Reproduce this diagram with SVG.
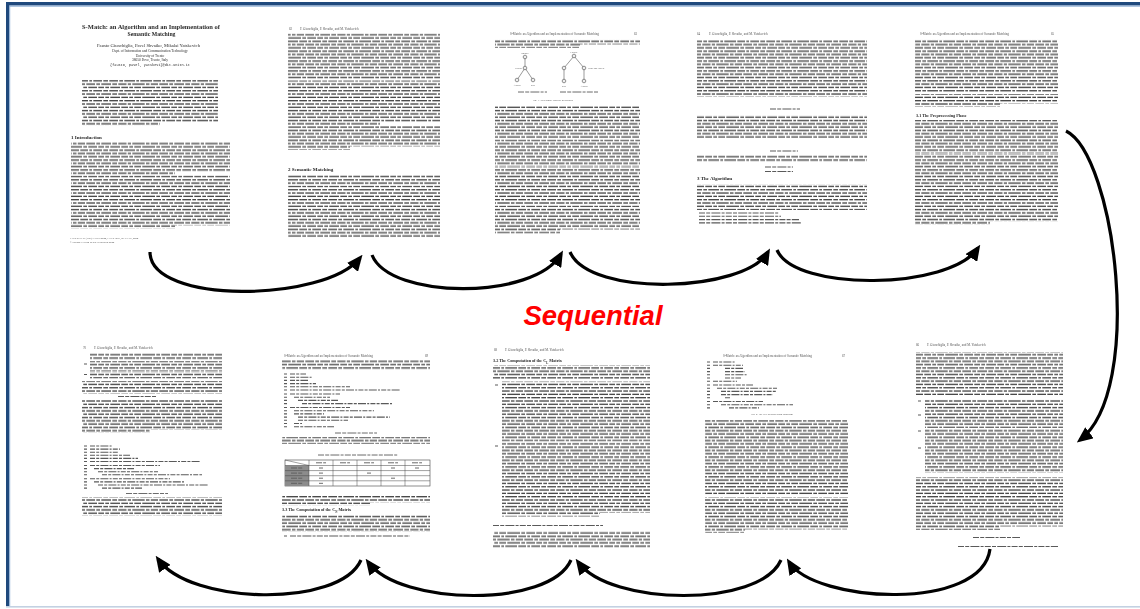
<svg xmlns="http://www.w3.org/2000/svg" width="1140" height="609" viewBox="0 0 1140 609">
<defs>
<style>
text{font-family:"Liberation Serif","Times New Roman",serif;fill:#2a2a2a}
.tt{font-weight:bold;font-size:6.2px}
.au{font-size:4.4px}
.af{font-size:3.5px}
.hd{font-weight:bold;font-size:5px}
.h2{font-weight:bold;font-size:4.2px}
.rh{font-size:3.2px;fill:#555}
.fn{font-size:2.6px;fill:#555}
.lb{font-size:2.4px;fill:#555}
.p{fill:url(#tx)}
.w{fill:#fff}
.code{fill:none;stroke:#5a5a5a;stroke-width:1.1;stroke-dasharray:5 1.2 3 1.2 8 1.2 2 1.2}
.bar{fill:none;stroke:#5a5a5a;stroke-width:1.1;stroke-dasharray:6 1.2 4 1.2 9 1.2 3 1.2}
.edge{stroke:#555;stroke-width:0.6}
.nd{fill:#eee;stroke:#333;stroke-width:0.5}
.arr{fill:none;stroke:#000;stroke-width:3.2;marker-end:url(#ah)}
.seq{font-family:"Liberation Sans",Arial,sans-serif;font-weight:bold;font-style:italic;font-size:27.5px;fill:#ff0000}
</style>
<!-- three rows of irregular word blocks, used for body text lines -->
<pattern id="tx" width="73" height="9.9" patternUnits="userSpaceOnUse">
<g fill="#474747">
<rect x="0" y="1" width="6" height="1.35"/><rect x="7.3" y="1" width="7.7" height="1.35"/><rect x="16.3" y="1" width="2.7" height="1.35"/><rect x="20.3" y="1" width="8.7" height="1.35"/><rect x="30.3" y="1" width="4.7" height="1.35"/><rect x="36.3" y="1" width="8.7" height="1.35"/><rect x="46.3" y="1" width="3.7" height="1.35"/><rect x="51.3" y="1" width="10.7" height="1.35"/><rect x="63.3" y="1" width="2.7" height="1.35"/><rect x="67.3" y="1" width="5.7" height="1.35"/>
<rect x="0" y="4.3" width="3.5" height="1.35"/><rect x="4.8" y="4.3" width="7.2" height="1.35"/><rect x="13.3" y="4.3" width="8.7" height="1.35"/><rect x="23.3" y="4.3" width="3.7" height="1.35"/><rect x="28.3" y="4.3" width="9.7" height="1.35"/><rect x="39.3" y="4.3" width="4.7" height="1.35"/><rect x="45.3" y="4.3" width="8.2" height="1.35"/><rect x="54.8" y="4.3" width="3.2" height="1.35"/><rect x="59.3" y="4.3" width="12.4" height="1.35"/>
<rect x="0" y="7.6" width="9" height="1.35"/><rect x="10.3" y="7.6" width="3.7" height="1.35"/><rect x="15.3" y="7.6" width="8.7" height="1.35"/><rect x="25.3" y="7.6" width="5.7" height="1.35"/><rect x="32.3" y="7.6" width="3.7" height="1.35"/><rect x="37.3" y="7.6" width="9.7" height="1.35"/><rect x="48.3" y="7.6" width="6.7" height="1.35"/><rect x="56.3" y="7.6" width="3.7" height="1.35"/><rect x="61.3" y="7.6" width="6.7" height="1.35"/><rect x="69.3" y="7.6" width="3.7" height="1.35"/>
</g>
</pattern>
<!-- scanned pages are slightly soft -->
<filter id="soft" x="-2%" y="-2%" width="104%" height="104%">
<feGaussianBlur stdDeviation="0.3"/>
</filter>
<marker id="ah" markerWidth="16" markerHeight="14" refX="12" refY="7" orient="auto" markerUnits="userSpaceOnUse">
<path d="M0,0 L16,7 L0,14 z" fill="#000"/>
</marker>
</defs>

<rect width="1140" height="609" fill="#fff"/>

<!-- slide frame -->
<g id="frame">
<rect x="6" y="2" width="1134" height="3.5" fill="#1f497d"/>
<rect x="9" y="5.5" width="1131" height="1.2" fill="#8eaed4"/>
<rect x="6" y="2" width="3.2" height="605" fill="#1f497d"/>
<rect x="9.2" y="6" width="1" height="601" fill="#8eaed4"/>
<rect x="6" y="606" width="1134" height="1.6" fill="#c3d1e2"/>
</g>

<g id="pages" filter="url(#soft)">
<!-- page 61 -->
<g id="page61">
<text class="tt" x="151" y="28.5" text-anchor="middle" textLength="138" lengthAdjust="spacingAndGlyphs">S-Match: an Algorithm and an Implementation of</text>
<text class="tt" x="151.5" y="35.5" text-anchor="middle" textLength="48" lengthAdjust="spacingAndGlyphs">Semantic Matching</text>
<text class="au" x="148.5" y="46.5" text-anchor="middle" textLength="103" lengthAdjust="spacingAndGlyphs">Fausto Giunchiglia, Pavel Shvaiko, Mikalai Yatskevich</text>
<text class="af" x="150" y="52" text-anchor="middle">Dept. of Information and Communication Technology</text>
<text class="af" x="150" y="56.5" text-anchor="middle">University of Trento</text>
<text class="af" x="150" y="61" text-anchor="middle">38050 Povo, Trento, Italy</text>
<text class="af" x="150" y="65.5" text-anchor="middle" style="font-family:'Liberation Mono',monospace">{fausto, pavel, yatskevi}@dit.unitn.it</text>
<rect class="p" x="82" y="79.5" width="136" height="46"/>
<rect class="w" x="160" y="122" width="60" height="4"/>
<text class="hd" x="71" y="138.5">1   Introduction</text>
<rect class="p" x="71" y="142" width="159" height="33"/>
<rect class="w" x="175" y="172" width="57" height="4"/>
<rect class="p" x="71" y="175.5" width="159" height="53"/>
<rect class="w" x="175" y="225.5" width="57" height="4"/>
<text class="fn" x="70" y="238.5">J. Davies et al. (Eds.): ESWS 2004, LNCS 3053, pp. 61–75, 2004.</text>
<text class="fn" x="70" y="242.5">© Springer-Verlag Berlin Heidelberg 2004</text>
</g>

<!-- page 62 -->
<g id="page62">
<text class="rh" x="289" y="30">62</text>
<text class="rh" x="300" y="30">F. Giunchiglia, P. Shvaiko, and M. Yatskevich</text>
<rect class="p" x="288" y="33.5" width="152" height="47"/>
<rect class="p" x="288" y="81" width="152" height="44"/>
<rect class="w" x="380" y="122" width="62" height="4"/>
<rect class="p" x="288" y="126" width="152" height="24"/>
<rect class="w" x="350" y="146.5" width="92" height="4"/>
<text class="hd" x="288" y="170.5">2   Semantic Matching</text>
<rect class="p" x="288" y="175" width="152" height="10"/>
<rect class="p" x="288" y="185.5" width="152" height="52"/>
</g>

<!-- page 63 -->
<g id="page63">
<text class="rh" x="510" y="35">S-Match: an Algorithm and an Implementation of Semantic Matching</text>
<text class="rh" x="634" y="35">63</text>
<rect class="p" x="495" y="39" width="145" height="9"/>
<rect class="w" x="580" y="44.5" width="62" height="4"/>
<g id="fig1">
<line class="edge" x1="525" y1="57" x2="525" y2="68"/>
<line class="edge" x1="525" y1="68" x2="517" y2="80"/>
<line class="edge" x1="525" y1="68" x2="533" y2="80"/>
<circle class="nd" cx="525" cy="57" r="1.8"/>
<circle class="nd" cx="525" cy="68" r="1.8"/>
<circle class="nd" cx="517" cy="80" r="1.8"/>
<circle class="nd" cx="533" cy="80" r="1.8"/>
<text class="lb" x="525" y="53.5" text-anchor="middle">Images</text>
<text class="lb" x="522" y="69" text-anchor="end">Europe</text>
<text class="lb" x="517" y="85.5" text-anchor="middle">Austria</text>
<text class="lb" x="533" y="85.5" text-anchor="middle">Italy</text>
<line class="edge" x1="574" y1="56" x2="564" y2="68"/>
<line class="edge" x1="574" y1="56" x2="584" y2="68"/>
<line class="edge" x1="564" y1="68" x2="564" y2="81"/>
<line class="edge" x1="584" y1="68" x2="584" y2="81"/>
<circle class="nd" cx="574" cy="56" r="1.8"/>
<circle class="nd" cx="564" cy="68" r="1.8"/>
<circle class="nd" cx="584" cy="68" r="1.8"/>
<circle class="nd" cx="564" cy="81" r="1.8"/>
<circle class="nd" cx="584" cy="81" r="1.8"/>
<text class="lb" x="574" y="52.5" text-anchor="middle">Europe</text>
<text class="lb" x="588" y="69">Wine and Cheese</text>
<text class="lb" x="564" y="86.5" text-anchor="middle">Italy</text>
<text class="lb" x="584" y="86.5" text-anchor="middle">Austria</text>
<path class="bar" d="M518,92 h29 M560,92 h38" style="stroke-width:0.9"/>
<text class="fn" x="553" y="101" text-anchor="middle">Fig. 1. Two simple concept hierarchies</text>
</g>
<rect class="p" x="495" y="106" width="145" height="33"/>
<rect class="p" x="495" y="139.5" width="145" height="27"/>
<rect class="p" x="495" y="167" width="145" height="38"/>
<rect class="p" x="495" y="205.5" width="145" height="28"/>
<rect class="w" x="560" y="229.5" width="82" height="5"/>
</g>

<!-- page 64 -->
<g id="page64">
<text class="rh" x="697" y="35">64</text>
<text class="rh" x="709" y="35">F. Giunchiglia, P. Shvaiko, and M. Yatskevich</text>
<rect class="p" x="697" y="40" width="170" height="57"/>
<path class="bar" d="M770,109 h30"/>
<rect class="p" x="697" y="115" width="170" height="23"/>
<path class="bar" d="M770,151 h28"/>
<rect class="p" x="697" y="155" width="170" height="7"/>
<path class="bar" d="M765,167 h28 M765,171.5 h28"/>
<text class="hd" x="697" y="180">3   The Algorithm</text>
<rect class="p" x="697" y="184" width="170" height="26"/>
<path class="bar" d="M699,213 h80 M699,216.3 h82 M699,219.6 h100 M699,222.9 h102"/>
</g>

<!-- page 65 -->
<g id="page65">
<text class="rh" x="920" y="35">S-Match: an Algorithm and an Implementation of Semantic Matching</text>
<text class="rh" x="1051" y="35">65</text>
<rect class="p" x="915" y="39" width="143" height="53"/>
<rect class="p" x="915" y="94" width="143" height="13"/>
<rect class="w" x="1000" y="103.5" width="60" height="4"/>
<text class="h2" x="916" y="116.5">3.1 The Preprocessing Phase</text>
<rect class="p" x="915" y="120" width="143" height="33"/>
<rect class="p" x="915" y="153.5" width="143" height="34"/>
<rect class="p" x="915" y="188" width="143" height="37"/>
<rect class="w" x="990" y="221.5" width="70" height="4"/>
</g>

<!-- page 66 -->
<g id="page66">
<text class="rh" x="916" y="346">66</text>
<text class="rh" x="927" y="346">F. Giunchiglia, P. Shvaiko, and M. Yatskevich</text>
<rect class="p" x="916" y="352" width="147" height="43"/>
<path class="bar" d="M918,401 h3 M918,415 h3 M918,431 h3 M918,448 h3"/>
<rect class="p" x="925" y="399" width="138" height="13"/>
<rect class="p" x="925" y="413" width="138" height="15"/>
<rect class="p" x="925" y="429" width="138" height="16"/>
<rect class="p" x="925" y="446" width="138" height="27"/>
<rect class="p" x="916" y="477" width="147" height="53"/>
<rect class="w" x="1000" y="526.5" width="65" height="4"/>
<path class="bar" d="M973,537.5 h47"/>
<path class="bar" d="M958,546.5 h100"/>
</g>

<!-- page 67 -->
<g id="page67">
<text class="rh" x="723" y="357">S-Match: an Algorithm and an Implementation of Semantic Matching</text>
<text class="rh" x="842" y="357">67</text>
<path class="code" d="M707,362 h3 M713,362 h22 M707,365.2 h3 M713,365.2 h30 M707,368.4 h3 M725,368.4 h18 M707,371.6 h3 M725,371.6 h20 M707,374.8 h3 M725,374.8 h22 M707,378 h3 M725,378 h16 M707,381.2 h3 M713,381.2 h24 M707,385 h3 M713,385 h40 M707,388.2 h3 M717,388.2 h60 M707,391.4 h3 M721,391.4 h56 M707,394.6 h3 M721,394.6 h52 M707,397.8 h3 M725,397.8 h6 M707,401.5 h3 M713,401.5 h50 M707,404.7 h3 M721,404.7 h72 M707,407.9 h3 M729,407.9 h30"/>
<text class="fn" x="772" y="414.5" text-anchor="middle">Fig. 2. The tree preprocessing algorithm</text>
<rect class="p" x="705" y="420" width="143" height="76"/>
<rect class="p" x="705" y="497" width="143" height="36"/>
<rect class="w" x="745" y="529.5" width="105" height="4"/>
</g>

<!-- page 68 -->
<g id="page68">
<text class="rh" x="494" y="350.5">68</text>
<text class="rh" x="505" y="350.5">F. Giunchiglia, P. Shvaiko, and M. Yatskevich</text>
<text class="h2" x="493" y="361.5">3.2 The Computation of the C<tspan baseline-shift="sub" font-size="3px">L</tspan> Matrix</text>
<rect class="p" x="493" y="365" width="157" height="14"/>
<path class="bar" d="M495,385 h3 M495,446 h3"/>
<rect class="p" x="502" y="381.5" width="148" height="60"/>
<rect class="p" x="502" y="442.5" width="148" height="74"/>
<rect class="w" x="600" y="513" width="52" height="4"/>
<path class="bar" d="M493,525.5 h110"/>
<rect class="p" x="493" y="531" width="157" height="17"/>
</g>

<!-- page 69 -->
<g id="page69">
<text class="rh" x="284" y="356.5">S-Match: an Algorithm and an Implementation of Semantic Matching</text>
<text class="rh" x="425" y="356.5">69</text>
<rect class="p" x="282" y="360" width="148" height="10"/>
<path class="code" d="M284,374 h3 M290,374 h16 M284,377.2 h3 M290,377.2 h22 M284,380.4 h3 M290,380.4 h18 M284,383.6 h3 M290,383.6 h26 M284,386.8 h3 M290,386.8 h60 M284,390 h3 M290,390 h110 M284,394 h3 M290,394 h50 M284,397.2 h3 M294,397.2 h36 M284,400.4 h3 M298,400.4 h40 M284,403.6 h3 M302,403.6 h90 M284,407.5 h3 M290,407.5 h60 M284,410.7 h3 M294,410.7 h80 M284,413.9 h3 M294,413.9 h30 M284,417.1 h3 M298,417.1 h92 M284,420.3 h3 M298,420.3 h50 M284,423.5 h3 M294,423.5 h8 M284,426.7 h3 M294,426.7 h40"/>
<path class="bar" d="M335,433 h42" style="stroke-width:0.9"/>
<rect class="p" x="282" y="437" width="148" height="7"/>
<path class="bar" d="M318,455 h80" style="stroke-width:0.9"/>
<g id="tbl">
<rect x="285" y="460" width="145" height="26" fill="none" stroke="#444" stroke-width="0.6"/>
<rect x="285" y="465.5" width="24" height="20.5" fill="#8c8c8c"/>
<path d="M285,465.5 h145 M285,470.6 h145 M285,475.7 h145 M285,480.8 h145 M309,460 v26 M333,460 v26 M357,460 v26 M381,460 v26 M405,460 v26 M285,460 L309,465.5" stroke="#444" stroke-width="0.5" fill="none"/>
<path class="bar" d="M316,462.8 h10 M340,462.8 h10 M364,462.8 h10 M388,462.8 h10 M412,462.8 h10 M291,468 h12 M291,473.1 h12 M291,478.2 h12 M291,483.3 h12" style="stroke-width:0.9"/>
<path class="bar" d="M319,468 h4 M391,468 h4 M415,468 h4 M319,473.1 h4 M319,478.2 h4 M319,483.3 h4 M367,473.1 h4 M391,478.2 h4" style="stroke-width:0.9"/>
</g>
<rect class="p" x="282" y="496" width="148" height="10"/>
<rect class="w" x="370" y="502.5" width="62" height="4"/>
<text class="h2" x="282" y="511">3.3 The Computation of the C<tspan baseline-shift="sub" font-size="3px">N</tspan> Matrix</text>
<rect class="p" x="282" y="515" width="148" height="17"/>
<path class="bar" d="M284,536 h3 M290,536 h120"/>
</g>

<!-- page 70 -->
<g id="page70">
<text class="rh" x="83" y="349">70</text>
<text class="rh" x="94" y="349">F. Giunchiglia, P. Shvaiko, and M. Yatskevich</text>
<rect class="p" x="90" y="353" width="132" height="7"/>
<path class="bar" d="M84,364 h3 M84,374.5 h3"/>
<rect class="p" x="90" y="361" width="132" height="10"/>
<rect class="p" x="90" y="371.5" width="132" height="7"/>
<rect class="p" x="82" y="381" width="140" height="13"/>
<path class="bar" d="M118,396.5 h39"/>
<rect class="p" x="82" y="400" width="140" height="33"/>
<rect class="w" x="150" y="430" width="74" height="4"/>
<path class="code" d="M84,446 h3 M90,446 h22 M84,449.1 h3 M90,449.1 h30 M84,452.2 h3 M90,452.2 h28 M84,455.3 h3 M90,455.3 h40 M84,458.4 h3 M90,458.4 h48 M84,461.5 h3 M90,461.5 h110 M84,465.5 h3 M90,465.5 h70 M84,468.6 h3 M94,468.6 h40 M84,471.7 h3 M98,471.7 h60 M84,474.8 h3 M102,474.8 h100 M84,478.8 h3 M90,478.8 h80 M84,481.9 h3 M94,481.9 h90 M84,485 h3 M98,485 h110 M84,488.1 h3 M102,488.1 h40"/>
<path class="bar" d="M126,493.5 h42" style="stroke-width:0.9"/>
<rect class="p" x="82" y="497" width="140" height="19"/>
</g>
</g>

<!-- reading-order connectors -->
<g id="arrows">
<path class="arr" d="M150,252 C150,305 325,302 360,258"/>
<path class="arr" d="M372,255 C390,300 535,300 561,254"/>
<path class="arr" d="M570,252 C590,298 745,292 768,252"/>
<path class="arr" d="M777,250 C795,292 950,290 978,248"/>
<path class="arr" d="M1066,131 C1115,155 1145,390 1080,440"/>
<path class="arr" d="M990,549 C982,612 815,603 789,562"/>
<path class="arr" d="M781,560 C760,608 610,606 578,562"/>
<path class="arr" d="M571,560 C550,608 400,606 368,562"/>
<path class="arr" d="M361,560 C340,608 190,605 158,559"/>
</g>

<text class="seq" x="593" y="325" text-anchor="middle">Sequential</text>
</svg>
